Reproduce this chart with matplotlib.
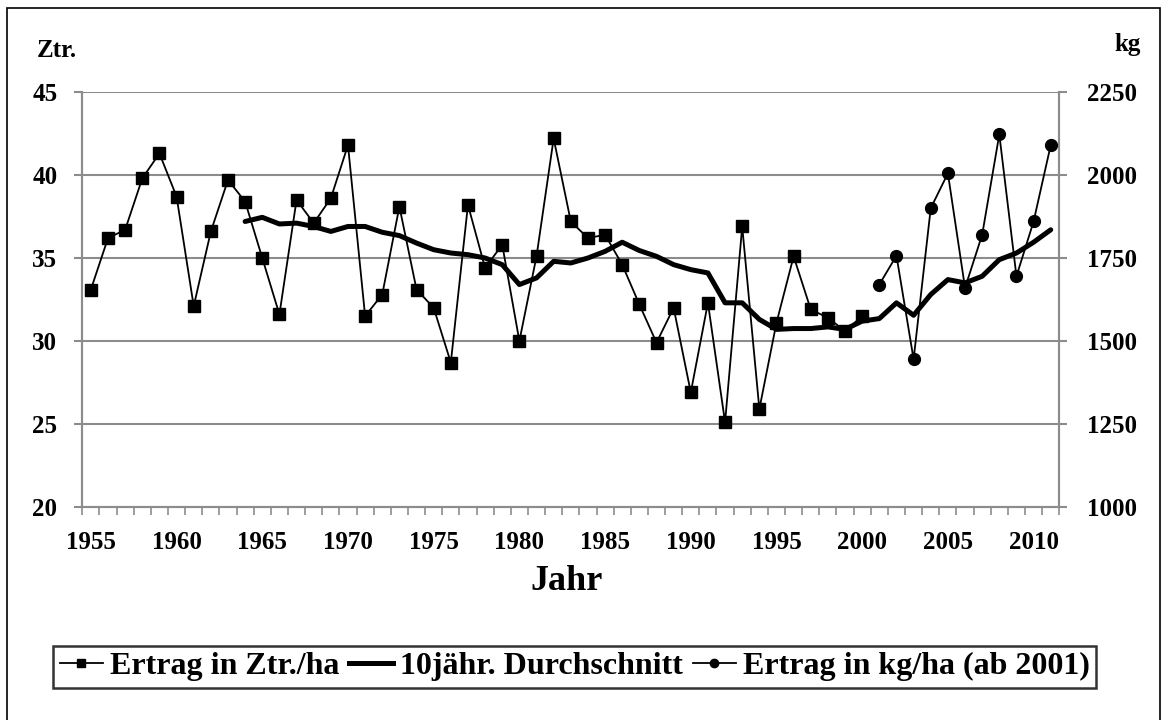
import matplotlib
matplotlib.use("Agg")
import matplotlib.pyplot as plt
from matplotlib.lines import Line2D
from matplotlib.patches import Rectangle
import numpy as np

plt.rcParams['font.family'] = ['Liberation Serif', 'DejaVu Serif']
plt.rcParams['font.weight'] = 'bold'

# Data
years_ztr = list(range(1955, 2001))
ertrag_ztr = [33.1, 36.2, 36.7, 39.8, 41.3, 38.7, 32.1, 36.6, 39.7, 38.4,
              35.0, 31.6, 38.5, 37.1, 38.6, 41.8, 31.5, 32.8, 38.1, 33.1,
              32.0, 28.7, 38.2, 34.4, 35.8, 30.0, 35.1, 42.2, 37.2, 36.2,
              36.4, 34.6, 32.2, 29.9, 32.0, 26.9, 32.3, 25.1, 36.9, 25.9,
              31.1, 35.1, 31.9, 31.4, 30.6, 31.5]

years_avg = list(range(1964, 2012))
avg10 = [37.2, 37.45, 37.05, 37.1, 36.9, 36.6, 36.9, 36.9, 36.55, 36.35,
         35.9, 35.5, 35.3, 35.2, 35.0, 34.6, 33.4, 33.8, 34.8, 34.7,
         35.0, 35.4, 35.95, 35.45, 35.1, 34.6, 34.3, 34.1, 32.3, 32.3,
         31.3, 30.7, 30.75, 30.75, 30.85, 30.7, 31.2, 31.35, 32.3, 31.55,
         32.8, 33.7, 33.5, 33.9, 34.9, 35.3, 35.95, 36.7]

years_kg = list(range(2001, 2012))
ertrag_kg = [1670, 1757, 1445, 1900, 2005, 1660, 1820, 2122, 1695, 1860, 2090]

left_ticks = [20, 25, 30, 35, 40, 45]
right_ticks = [1000, 1250, 1500, 1750, 2000, 2250]
x_label_years = list(range(1955, 2011, 5))

fig = plt.figure(figsize=(11.63, 7.2), dpi=100)
ax = fig.add_axes([82.3/1163, 1-507/720, (1059.3-82.3)/1163, (507-92)/720])
ax2 = ax.twinx()

grid_c = '#8c8c8c'
ax.set_xlim(1954.5, 2011.5)
ax.set_ylim(20, 45)
ax2.set_ylim(1000, 2250)

for v in left_ticks[1:]:
    ax.axhline(v, color=grid_c, lw=1.5, zorder=0)

ax.plot(years_ztr, ertrag_ztr, color='black', lw=1.3, marker='s', ms=8,
        markerfacecolor='black', markeredgecolor='black', zorder=3)
ax.plot(years_avg, avg10, color='black', lw=3.6, solid_capstyle='round', zorder=4)
ax2.plot(years_kg, ertrag_kg, color='black', lw=1.3, marker='o', ms=8.5,
         markerfacecolor='black', markeredgecolor='black', zorder=3)

for a in (ax, ax2):
    for s in a.spines.values():
        s.set_color(grid_c)
        s.set_linewidth(1.5)
    a.spines['top'].set_visible(False)

tick_fs = 18
ax.set_yticks(left_ticks)
ax.set_yticklabels([str(t) for t in left_ticks], fontsize=tick_fs, fontweight='bold')
ax2.set_yticks(right_ticks)
ax2.set_yticklabels([str(t) for t in right_ticks], fontsize=tick_fs, fontweight='bold')
ax.tick_params(axis='y', length=6, width=1.5, color=grid_c, pad=12)
ax2.tick_params(axis='y', length=6, width=1.5, color=grid_c, pad=14)

ax.set_xticks(x_label_years)
ax.set_xticklabels([str(y) for y in x_label_years], fontsize=tick_fs, fontweight='bold')
ax.set_xticks(np.arange(1954.5, 2012, 1.0), minor=True)
ax.tick_params(axis='x', which='major', length=0, pad=17)
ax.tick_params(axis='x', which='minor', length=6, width=1.2, color=grid_c)

fig.text(567/1163, 1-581/720, 'Jahr', fontsize=26, fontweight='bold', va='center', ha='center')

fig.text(37/1163, 1-57/720, 'Ztr.', fontsize=18, fontweight='bold', va='baseline', ha='left')
fig.text(1114/1163, 1-51/720, 'kg', fontsize=18, fontweight='bold', va='baseline', ha='left')

handles = [
    Line2D([], [], color='black', lw=1.3, marker='s', ms=6),
    Line2D([], [], color='black', lw=3.6),
    Line2D([], [], color='black', lw=1.3, marker='o', ms=6),
]
labels = ['Ertrag in Ztr./ha', '10jähr. Durchschnitt', 'Ertrag in kg/ha (ab 2001)']
leg = fig.legend(handles, labels, loc='center', bbox_to_anchor=(574.7/1163, 1-666.7/720),
                 ncol=3, frameon=True, fancybox=False, edgecolor='black',
                 prop={'size': 23, 'weight': 'bold'}, handlelength=1.35,
                 handletextpad=0.22, columnspacing=0.32, borderpad=0.2,
                 borderaxespad=0)
leg.get_frame().set_linewidth(1.8)

fig.patches.append(Rectangle((7/1163, -0.01), 1153/1163, 1.01 - 8/720, transform=fig.transFigure,
                             fill=False, edgecolor='black', lw=1.2))

fig.savefig('out.png', dpi=100)
